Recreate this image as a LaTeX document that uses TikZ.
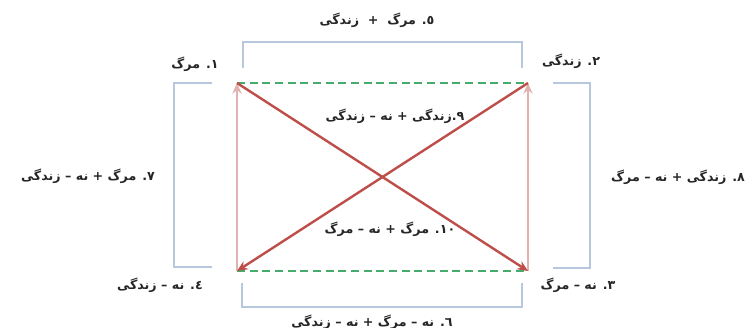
\documentclass[tikz,border=0pt]{standalone}
\usepackage{fontspec}
\newfontfamily\arabicfont[Script=Arabic]{DejaVu Sans}
\TeXXeTstate=1
\usetikzlibrary{arrows.meta}
\definecolor{brk}{RGB}{183,199,221}
\definecolor{pinkln}{RGB}{226,178,176}
\definecolor{redln}{RGB}{190,78,74}
\definecolor{grnln}{RGB}{70,172,108}
\tikzset{
  brack/.style={draw=brk, line width=2.2pt},
  vert/.style={draw=pinkln, line width=1.8pt, -{Stealth[length=8pt,width=7pt]}},
  diag/.style={draw=redln, line width=1.8pt, -{Stealth[length=8pt,width=7pt]}},
  greendash/.style={draw=grnln, line width=1.6pt, dash pattern=on 6pt off 3.5pt},
  lab/.style={font=\arabicfont\bfseries\fontsize{9.5}{11}\selectfont, inner sep=0pt, text=black!85}
}
\begin{document}
\begin{tikzpicture}[x=0.75pt,y=-0.75pt]
\useasboundingbox (0,0) rectangle (756,328);
% corners
\coordinate (tl) at (237,83);
\coordinate (tr) at (528,83);
\coordinate (bl) at (237,271);
\coordinate (br) at (528,271);
% brackets
\coordinate (t1) at (243,68); \coordinate (t2) at (243,42);
\coordinate (t3) at (522,42); \coordinate (t4) at (522,68);
\draw[brack] (t1) -- (t2) -- (t3) -- (t4);
\coordinate (l1) at (212,83); \coordinate (l2) at (174,83);
\coordinate (l3) at (174,267); \coordinate (l4) at (212,267);
\draw[brack] (l1) -- (l2) -- (l3) -- (l4);
\coordinate (r1) at (553,83); \coordinate (r2) at (590,83);
\coordinate (r3) at (590,268); \coordinate (r4) at (553,268);
\draw[brack] (r1) -- (r2) -- (r3) -- (r4);
\coordinate (b1) at (242,283); \coordinate (b2) at (242,307);
\coordinate (b3) at (522,307); \coordinate (b4) at (522,283);
\draw[brack] (b1) -- (b2) -- (b3) -- (b4);
% dashed greens
\draw[greendash] (tl) -- (tr);
\draw[greendash] (bl) -- (br);
% verticals
\draw[vert] (bl) -- (tl);
\draw[vert] (br) -- (tr);
% diagonals
\draw[diag] (tl) -- (br);
\draw[diag] (tr) -- (bl);
% labels
\node[lab] (n5) at (377,20) {\beginR ٥. مرگ \ + \ زندگی\endR};
\node[lab] (n1) at (195,64) {\beginR ١. مرگ\endR};
\node[lab] (n2) at (571,61) {\beginR ٢. زندگی\endR};
\node[lab] (n7) at (88,176) {\beginR ٧. مرگ + نه – زندگی\endR};
\node[lab] (n8) at (678,177) {\beginR ٨. زندگی + نه – مرگ\endR};
\node[lab] (n4) at (160,285) {\beginR ٤. نه – زندگی\endR};
\node[lab] (n3) at (578,285) {\beginR ٣. نه – مرگ\endR};
\node[lab] (n6) at (372,322) {\beginR ٦. نه – مرگ + نه – زندگی\endR};
\node[lab] (n9) at (395,116) {\beginR ٩.زندگی + نه – زندگی\endR};
\node[lab] (n10) at (390,229) {\beginR ١٠. مرگ + نه – مرگ\endR};
\end{tikzpicture}
\end{document}
